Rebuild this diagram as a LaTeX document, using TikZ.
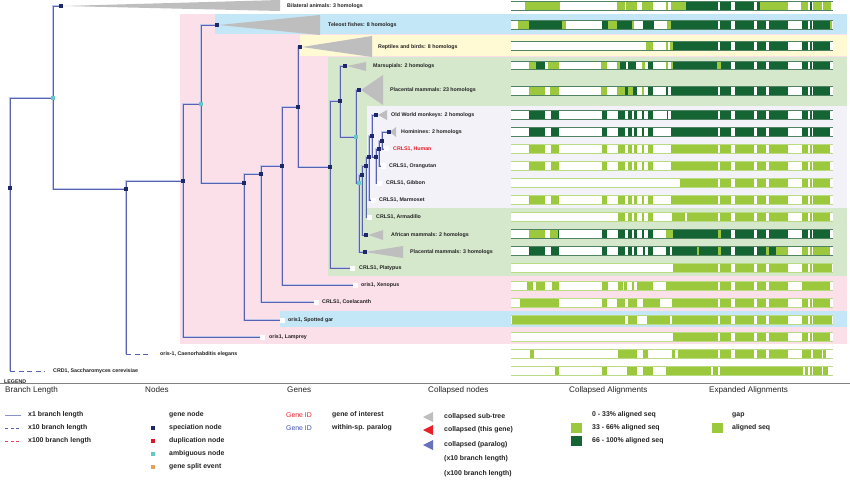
\documentclass[tikz,border=0pt]{standalone}
\usepackage{fontspec}
\setmainfont{Liberation Sans}
\definecolor{LG}{RGB}{155,200,60}
\definecolor{DG}{RGB}{21,100,52}
\definecolor{bpink}{RGB}{251,223,233}
\definecolor{bblue}{RGB}{196,231,248}
\definecolor{byel}{RGB}{255,249,212}
\definecolor{bgreen}{RGB}{213,232,204}
\definecolor{blav}{RGB}{242,242,248}
\definecolor{navy}{RGB}{30,40,105}
\definecolor{ambc}{RGB}{100,200,200}
\definecolor{edgeL}{RGB}{190,198,235}
\definecolor{edgeD}{RGB}{88,98,178}
\definecolor{tric}{RGB}{190,190,190}
\definecolor{genered}{RGB}{232,32,42}
\definecolor{geneblue}{RGB}{64,80,170}
\definecolor{bordD}{RGB}{80,130,100}
\definecolor{bordL}{RGB}{185,220,130}
\definecolor{dupred}{RGB}{220,20,40}
\definecolor{splitor}{RGB}{230,160,90}
\definecolor{txt}{RGB}{35,35,35}
\definecolor{rulec}{RGB}{130,130,130}
\newcommand{\tlfont}{\fontsize{5.3}{5.5}\selectfont\bfseries}
\newcommand{\lgfont}{\fontsize{6.9}{7.5}\selectfont\bfseries}
\newcommand{\hdfont}{\fontsize{8.1}{8.5}\selectfont}
\newcommand{\alnrow}[3]{%
  \fill[white] (511,#1-4.3) rectangle (833.3,#1+4.3);
  \foreach \a/\b/\c in {#3}{\fill[\c] ({500+\a/3},#1-4.3) rectangle ({500+\b/3},#1+4.3);}
  \draw[#2, line width=0.6pt] (511,#1-4.3) -- (833.3,#1-4.3) (511,#1+4.3) -- (833.3,#1+4.3);
}
\pgfdeclarelayer{bands}
\pgfdeclarelayer{edges}
\pgfsetlayers{bands,edges,main}
\begin{document}
\begin{tikzpicture}[x=1pt,y=-1pt,
  spec/.style={rectangle, fill=navy, minimum size=4.6pt, inner sep=0pt},
  ambn/.style={rectangle, fill=ambc, minimum size=4.6pt, inner sep=0pt},
  leaf/.style={rectangle, fill=white, minimum size=5pt, inner sep=0pt},
  lbl/.style={anchor=west, inner sep=0pt, font=\tlfont, text=txt},
  hd/.style={anchor=west, inner sep=0pt, font=\hdfont, text=txt},
  lg/.style={anchor=west, inner sep=0pt, font=\lgfont, text=txt},
  edgeu/.style={draw=edgeL, line width=1.8pt},
  edged/.style={draw=edgeD, line width=0.7pt},
  tri/.style={fill=tric}]
\useasboundingbox (0,0) rectangle (850,481);
\begin{pgfonlayer}{bands}
\fill[white] (0,0) rectangle (850,481);
\fill[bpink] (180,14) rectangle (847,344);
\fill[bblue] (215,14) rectangle (847,34.5);
\fill[byel] (300,35) rectangle (847,56.5);
\fill[bgreen] (328,57) rectangle (847,276);
\fill[blav] (367,106) rectangle (847,208);
\fill[bblue] (280,311) rectangle (847,327);
\end{pgfonlayer}

% tree nodes
\node[spec] (root) at (10,188) {};
\node[ambn] (n1) at (53,98) {};
\node[spec] (bil) at (61,6) {};
\node[spec] (n2) at (126,189) {};
\node[spec] (n3) at (183,181) {};
\node[ambn] (n4) at (201,104) {};
\node[spec] (tel) at (217,25) {};
\node[spec] (n5) at (244,183) {};
\node[spec] (n6) at (261,174) {};
\node[spec] (n7) at (282,166) {};
\node[spec] (n8) at (298,107) {};
\node[spec] (rep) at (300,47) {};
\node[spec] (n9) at (330,167) {};
\node[spec] (n10) at (340,101) {};
\node[spec] (mar) at (345,66) {};
\node[ambn] (n11) at (356,137) {};
\node[spec] (pla) at (359,90) {};
\node[ambn] (n12) at (359,183) {};
\node[spec] (n13) at (362,175) {};
\node[spec] (n14) at (366,166) {};
\node[spec] (n15) at (369,157) {};
\node[spec] (n16) at (372,136) {};
\node[spec] (owm) at (376,115) {};
\node[spec] (n17) at (376,157) {};
\node[spec] (n18) at (379,149) {};
\node[spec] (n19) at (382,141) {};
\node[spec] (hom) at (389,132) {};
\node[spec] (afr) at (366,235) {};
\node[spec] (pl3) at (365,252) {};
% leaves
\node[leaf] (human) at (386,149) {};
\node[leaf] (orang) at (383,166) {};
\node[leaf] (gibbon) at (379,183) {};
\node[leaf] (marm) at (373,200) {};
\node[leaf] (arma) at (369,217) {};
\node[leaf] (platy) at (352,268) {};
\node[leaf] (xen) at (355,285) {};
\node[leaf] (coel) at (316,302) {};
\node[leaf] (gar) at (282,320) {};
\node[leaf] (lamp) at (262,337) {};
\coordinate (celc) at (126,354);
\coordinate (cel) at (148,354);
\coordinate (sacc) at (10,371);
\coordinate (sac) at (45,371);

\begin{pgfonlayer}{edges}
\foreach \p/\c in {root/n1,root/sacc,n1/bil,n1/n2,n2/n3,n2/celc,n3/n4,n3/lamp,n4/tel,n4/n5,n5/n6,n5/gar,n6/n7,n6/coel,n7/n8,n7/xen,n8/rep,n8/n9,n9/n10,n9/platy,n10/mar,n10/n11,n11/pla,n11/n12,n12/n13,n12/pl3,n13/n14,n13/afr,n14/n15,n14/arma,n15/n16,n15/marm,n16/owm,n16/n17,n17/n18,n17/gibbon,n18/n19,n18/orang,n19/hom,n19/human}{
  \draw[edgeu] (\p.center) |- (\c.center);
  \draw[edged] (\p.center) |- (\c.center);
}
\draw[edged, dash pattern=on 5pt off 3.5pt] (celc) -- (cel);
\draw[edged, dash pattern=on 5pt off 3.5pt] (sacc) -- (sac);
% collapsed triangles
\fill[tri] (63,6) -- (280,0) -- (280,11) -- cycle;
\fill[tri] (219,25) -- (320,15) -- (320,35) -- cycle;
\fill[tri] (302,47) -- (372,36) -- (372,57) -- cycle;
\fill[tri] (347,66) -- (366,62) -- (366,71) -- cycle;
\fill[tri] (361,90) -- (383,75) -- (383,105) -- cycle;
\fill[tri] (378,115) -- (387,110) -- (387,120) -- cycle;
\fill[tri] (390,132) -- (396,127) -- (396,137) -- cycle;
\fill[tri] (368,235) -- (383,230) -- (383,240) -- cycle;
\fill[tri] (365,252) -- (403,246) -- (403,258) -- cycle;
\end{pgfonlayer}

% labels
\node[lbl] (t1) at (287,6) {Bilateral animals: 3 homologs};
\node[lbl] (t2) at (328,25) {Teleost fishes: 8 homologs};
\node[lbl] (t3) at (378,47) {Reptiles and birds: 8 homologs};
\node[lbl] (t4) at (373,66) {Marsupials: 2 homologs};
\node[lbl] (t5) at (390,90) {Placental mammals: 23 homologs};
\node[lbl] (t6) at (391,115) {Old World monkeys: 2 homologs};
\node[lbl] (t7) at (401,132) {Hominines: 2 homologs};
\node[lbl, text=genered] (t8) at (393,149) {CRLS1, Human};
\node[lbl] (t9) at (389,166) {CRLS1, Orangutan};
\node[lbl] (t10) at (386,183) {CRLS1, Gibbon};
\node[lbl] (t11) at (379,200) {CRLS1, Marmoset};
\node[lbl] (t12) at (376,217) {CRLS1, Armadillo};
\node[lbl] (t13) at (391,235) {African mammals: 2 homologs};
\node[lbl] (t14) at (410,252) {Placental mammals: 3 homologs};
\node[lbl] (t15) at (359,268) {CRLS1, Platypus};
\node[lbl] (t16) at (361,285) {oris1, Xenopus};
\node[lbl] (t17) at (322,302) {CRLS1, Coelacanth};
\node[lbl] (t18) at (288,320) {oris1, Spotted gar};
\node[lbl] (t19) at (269,337) {oris1, Lamprey};
\node[lbl] (t20) at (160,354) {oris-1, Caenorhabditis elegans};
\node[lbl] (t21) at (53,371) {CRD1, Saccharomyces cerevisiae};

% alignments
\alnrow{6}{bordD}{75/180/LG,352/375/LG,378/410/LG,425/460/LG,497/505/LG,512/557/LG,557/655/DG,660/693/DG,705/763/DG,772/780/DG,780/865/LG,903/925/LG,930/935/DG,938/965/LG,968/993/LG}
\alnrow{25}{bordD}{53/88/LG,88/185/DG,185/197/LG,305/323/DG,323/352/LG,352/397/DG,397/403/LG,428/463/DG,500/512/LG,512/655/DG,660/693/DG,705/763/DG,772/798/DG,806/865/DG,905/925/DG,930/935/DG,938/990/DG,990/995/LG}
\alnrow{46}{bordD}{438/460/LG,497/505/LG,510/520/LG,520/655/DG,660/693/DG,705/763/DG,772/798/DG,806/865/DG,905/925/DG,930/935/DG,938/990/DG}
\alnrow{65.5}{bordD}{87/108/LG,108/135/DG,143/178/LG,303/322/LG,352/360/LG,360/378/DG,383/408/DG,425/435/LG,443/460/DG,498/505/LG,512/520/LG,520/652/DG,652/662/LG,662/693/DG,705/763/DG,772/798/DG,806/865/DG,905/925/DG,930/935/DG,938/990/DG}
\alnrow{91}{bordD}{87/135/LG,150/178/LG,303/322/LG,352/375/LG,375/385/DG,385/400/LG,400/410/DG,425/433/LG,443/460/DG,498/505/DG,512/655/DG,660/693/DG,705/763/DG,772/798/DG,806/865/DG,905/925/DG,930/935/DG,938/990/DG}
\alnrow{115}{bordD}{88/135/DG,153/178/DG,305/322/DG,353/375/DG,383/397/DG,403/410/DG,425/433/DG,443/460/DG,500/505/DG,512/655/DG,660/693/DG,705/763/DG,772/798/DG,806/865/DG,905/925/DG,930/935/DG,938/990/DG}
\alnrow{132}{bordD}{88/135/DG,153/178/DG,305/322/DG,353/375/DG,383/397/DG,403/410/DG,425/433/DG,443/460/DG,512/655/DG,660/693/DG,705/763/DG,772/798/DG,806/865/DG,905/925/DG,930/935/DG,938/990/DG}
\alnrow{149}{bordL}{88/135/LG,153/178/LG,305/322/LG,353/375/LG,383/397/LG,403/410/LG,425/433/LG,443/460/LG,512/655/LG,660/693/LG,705/763/LG,772/798/LG,806/865/LG,905/925/LG,930/935/LG,938/990/LG}
\alnrow{166}{bordL}{88/135/LG,153/178/LG,305/322/LG,353/375/LG,383/397/LG,403/410/LG,425/433/LG,443/460/LG,512/655/LG,660/693/LG,705/763/LG,772/798/LG,806/865/LG,905/925/LG,930/935/LG,938/990/LG}
\alnrow{183}{bordL}{540/655/LG,660/693/LG,705/763/LG,772/798/LG,806/865/LG,905/925/LG,930/935/LG,938/990/LG}
\alnrow{200}{bordL}{88/135/LG,153/178/LG,305/322/LG,353/375/LG,383/397/LG,403/410/LG,425/433/LG,443/460/LG,512/655/LG,660/693/LG,705/763/LG,772/798/LG,806/865/LG,905/925/LG,930/935/LG,938/990/LG}
\alnrow{217}{bordL}{355/375/LG,383/397/LG,403/410/LG,425/433/LG,443/460/LG,515/555/LG,560/655/LG,660/693/LG,705/763/LG,772/798/LG,806/865/LG,905/925/LG,930/935/LG,938/990/LG}
\alnrow{234}{bordD}{87/135/LG,150/175/LG,175/178/DG,305/322/DG,353/375/DG,383/397/DG,403/410/DG,425/433/DG,443/460/DG,497/520/LG,520/655/DG,655/662/LG,662/693/DG,705/763/DG,772/798/DG,806/865/DG,905/925/DG,930/935/DG,938/990/DG}
\alnrow{251}{bordD}{88/135/DG,153/178/DG,305/322/DG,353/375/DG,383/397/DG,403/410/DG,430/435/DG,443/460/DG,497/510/DG,515/590/DG,590/597/LG,597/655/DG,655/662/LG,662/693/DG,705/763/DG,772/798/DG,798/806/LG,806/828/DG,828/865/LG,905/925/LG,930/935/LG,938/990/LG}
\alnrow{268}{bordL}{520/655/LG,660/693/LG,705/763/LG,772/798/LG,806/865/LG,905/925/LG,930/935/LG,938/995/LG}
\alnrow{286}{bordL}{82/100/LG,107/135/LG,157/178/LG,305/323/LG,355/368/LG,372/380/LG,397/403/LG,410/460/LG,497/655/LG,660/693/LG,705/763/LG,772/798/LG,806/865/LG,905/990/LG}
\alnrow{303}{bordL}{60/178/LG,305/322/LG,352/375/LG,383/410/LG,428/480/LG,515/655/LG,660/693/LG,705/763/LG,772/798/LG,806/865/LG,905/925/LG,930/935/LG,938/990/LG}
\alnrow{320}{bordL}{35/375/LG,385/410/LG,440/510/LG,515/655/LG,660/693/LG,705/763/LG,772/798/LG,806/865/LG,905/925/LG,930/935/LG,938/995/LG}
\alnrow{337}{bordL}{520/655/LG,660/693/LG,705/763/LG,772/798/LG,806/865/LG,905/925/LG,930/935/LG,938/990/LG}
\alnrow{354}{bordL}{90/103/LG,355/410/LG,428/443/LG,515/525/LG,533/655/LG,660/693/LG,705/763/LG,772/798/LG,806/865/LG,905/933/LG,938/965/LG,970/978/LG}
\alnrow{371}{bordL}{165/178/LG,305/322/LG,380/410/LG,428/460/LG,497/633/LG,638/655/LG,660/910/LG,915/925/LG,930/935/LG,938/965/LG,970/985/LG}

% legend
\draw[rulec, line width=0.9pt] (0,383) -- (850,383);
\node[anchor=west, inner sep=0pt, font=\fontsize{5.3}{5.5}\selectfont\bfseries, text=txt] (leg) at (4,381.5) {LEGEND};
\node[hd] (h1) at (5,390) {Branch Length};
\node[hd] (h2) at (145,390) {Nodes};
\node[hd] (h3) at (287,390) {Genes};
\node[hd] (h4) at (428,390) {Collapsed nodes};
\node[hd] (h5) at (569,390) {Collapsed Alignments};
\node[hd] (h6) at (709,390) {Expanded Alignments};
% branch length
\coordinate (bl1a) at (5,415); \coordinate (bl1b) at (21,415);
\coordinate (bl2a) at (5,428); \coordinate (bl2b) at (21,428);
\coordinate (bl3a) at (5,441); \coordinate (bl3b) at (21,441);
\draw[edgeD!70, line width=0.7pt] (bl1a) -- (bl1b);
\draw[edgeD, line width=0.7pt, dash pattern=on 3pt off 2.5pt] (bl2a) -- (bl2b);
\draw[dupred!80, line width=0.7pt, dash pattern=on 3pt off 2.5pt] (bl3a) -- (bl3b);
\node[lg] (b1) at (28,415) {x1 branch length};
\node[lg] (b2) at (28,428) {x10 branch length};
\node[lg] (b3) at (28,441) {x100 branch length};
% nodes
\node[rectangle, fill=navy, minimum size=4pt, inner sep=0pt] (k2) at (153,428) {};
\node[rectangle, fill=dupred, minimum size=4pt, inner sep=0pt] (k3) at (153,441) {};
\node[rectangle, fill=ambc, minimum size=4pt, inner sep=0pt] (k4) at (153,454) {};
\node[rectangle, fill=splitor, minimum size=4pt, inner sep=0pt] (k5) at (153,467) {};
\node[lg] (nd1) at (169,415) {gene node};
\node[lg] (nd2) at (169,428) {speciation node};
\node[lg] (nd3) at (169,441) {duplication node};
\node[lg] (nd4) at (169,454) {ambiguous node};
\node[lg] (nd5) at (169,467) {gene split event};
% genes
\node[anchor=west, inner sep=0pt, font=\fontsize{6.9}{7.5}\selectfont, text=genered] (g1) at (286,415) {Gene ID};
\node[anchor=west, inner sep=0pt, font=\fontsize{6.9}{7.5}\selectfont, text=geneblue] (g2) at (286,428) {Gene ID};
\node[lg] (g3) at (332,415) {gene of interest};
\node[lg] (g4) at (332,428) {within-sp. paralog};
% collapsed nodes
\fill[tric] (423,417) -- (433,412) -- (433,422) -- cycle;
\fill[genered] (423,430) -- (433,425) -- (433,435) -- cycle;
\fill[geneblue!80] (423,445) -- (433,440) -- (433,450) -- cycle;
\node[lg] (c1) at (444,417) {collapsed sub-tree};
\node[lg] (c2) at (444,430) {collapsed (this gene)};
\node[lg] (c3) at (444,445) {collapsed (paralog)};
\node[lg] (c4) at (444,459) {(x10 branch length)};
\node[lg] (c5) at (444,474) {(x100 branch length)};
% collapsed alignments
\fill[LG] (571,423) rectangle (582,433);
\fill[DG] (571,436) rectangle (582,446);
\node[lg] (a1) at (592,415) {0 - 33\% aligned seq};
\node[lg] (a2) at (592,428) {33 - 66\% aligned seq};
\node[lg] (a3) at (592,441) {66 - 100\% aligned seq};
% expanded
\fill[LG] (712,423) rectangle (723,433);
\node[lg] (e1) at (732,415) {gap};
\node[lg] (e2) at (732,428) {aligned seq};
\end{tikzpicture}
\end{document}
